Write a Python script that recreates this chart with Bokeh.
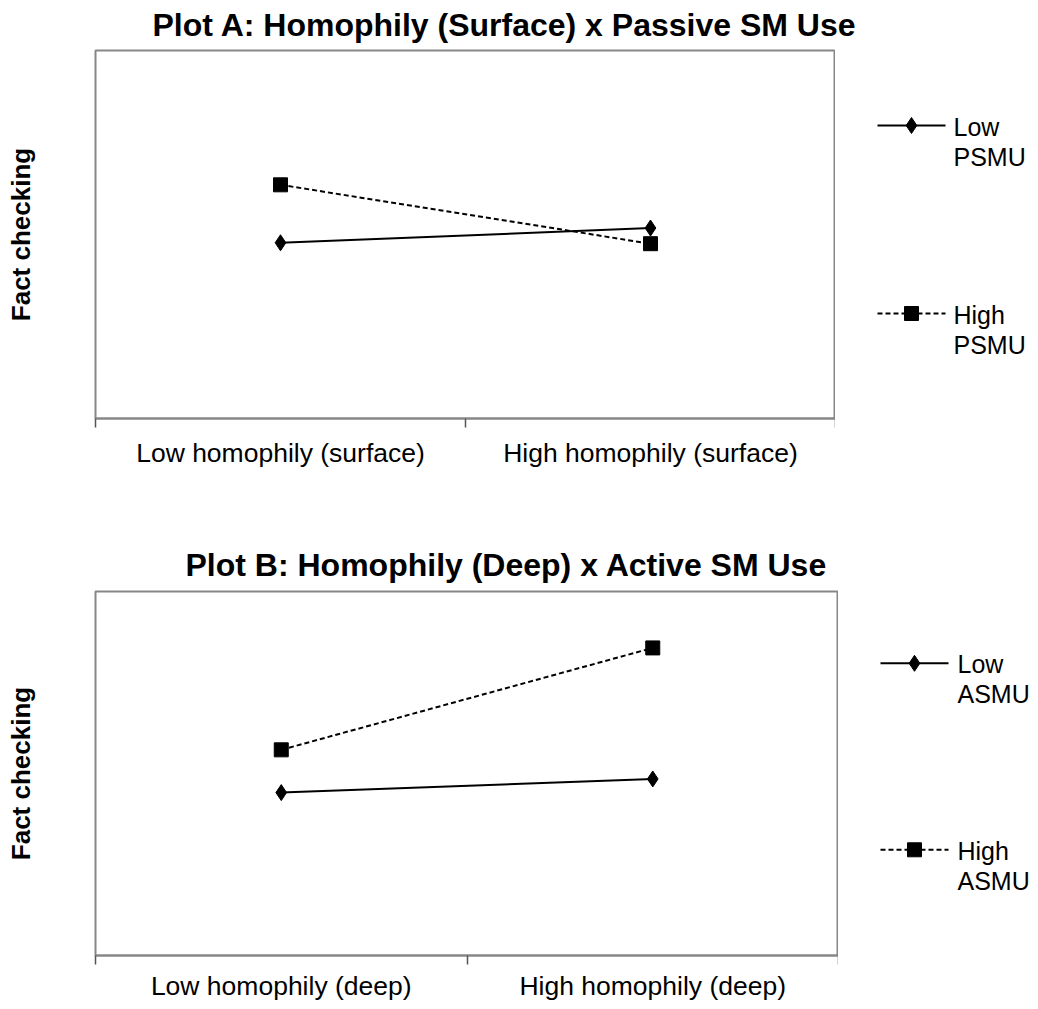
from bokeh.plotting import figure
from bokeh.models import FactorRange, Range1d, LinearAxis, FixedTicker
from bokeh.core.properties import value
from bokeh.layouts import column, row
from bokeh.embed import file_html
from bokeh.resources import INLINE

# ---- data ----
title_a = "Plot A: Homophily (Surface) x Passive SM Use"
categories_a = ["Low homophily (surface)", "High homophily (surface)"]
low_psmu = [2.91, 3.07]
high_psmu = [3.54, 2.90]
legend_a = ["Low\nPSMU", "High\nPSMU"]

title_b = "Plot B: Homophily (Deep) x Active SM Use"
categories_b = ["Low homophily (deep)", "High homophily (deep)"]
low_asmu = [2.79, 2.94]
high_asmu = [3.26, 4.38]
legend_b = ["Low\nASMU", "High\nASMU"]

y_label = "Fact checking"
y_min, y_max = 1, 5

FONT = "Liberation Sans"
FRAME_GRAY = "#878787"
TOTAL_W = 1030


def blank(width, height, xr, yr):
    q = figure(width=width, height=height, output_backend="svg", toolbar_location=None,
               x_range=xr, y_range=yr, x_axis_type=None, y_axis_type=None, min_border=0)
    q.xgrid.visible = False
    q.ygrid.visible = False
    q.outline_line_color = None
    q.background_fill_color = "white"
    q.border_fill_color = "white"
    return q


def make_header(title, height, tx, ty):
    # title strip (pixel space, y downward)
    h = blank(TOTAL_W, height, Range1d(0, TOTAL_W), Range1d(height, 0))
    h.text(x=[tx], y=[ty], text=[title], text_font=value(FONT), text_font_size="32px",
           text_font_style="bold", text_color="black", text_baseline="middle",
           text_align="left")
    return h


def make_plot(cats, low, high, width, height, b_top, b_bottom, xlab_standoff):
    p = figure(width=width, height=height, output_backend="svg", toolbar_location=None,
               x_range=FactorRange(*cats, range_padding=0), y_range=Range1d(y_min, y_max),
               x_axis_type=None, min_border_left=95, min_border_right=0,
               min_border_top=b_top, min_border_bottom=b_bottom)
    p.xgrid.visible = False
    p.ygrid.visible = False
    p.outline_line_color = FRAME_GRAY
    p.outline_line_width = 2
    p.background_fill_color = "white"
    p.border_fill_color = "white"

    # y axis: label only, no ticks
    yax = p.yaxis[0]
    yax.ticker = FixedTicker(ticks=[])
    yax.axis_label = y_label
    yax.axis_label_text_font = FONT
    yax.axis_label_text_font_size = "26px"
    yax.axis_label_text_font_style = "bold"
    yax.axis_label_text_color = "black"
    yax.major_label_standoff = 0
    yax.major_tick_out = 0
    yax.major_tick_in = 0
    yax.minor_tick_out = 0
    yax.minor_tick_in = 0
    yax.axis_line_color = None
    yax.axis_label_standoff = 60

    # x axis: category labels at centers, tick marks at category boundaries
    n = len(cats)
    centers = [i + 0.5 for i in range(n)]
    xax = LinearAxis(ticker=FixedTicker(ticks=centers, minor_ticks=list(range(n + 1))),
                     major_label_overrides={c: lab for c, lab in zip(centers, cats)})
    xax.major_tick_out = 0
    xax.major_tick_in = 0
    xax.minor_tick_out = 9
    xax.minor_tick_in = 0
    xax.minor_tick_line_color = "#555555"
    xax.minor_tick_line_width = 1.5
    xax.axis_line_color = FRAME_GRAY
    xax.axis_line_width = 2
    xax.major_label_text_font = FONT
    xax.major_label_text_font_size = "26.5px"
    xax.major_label_text_color = "black"
    xax.major_label_standoff = xlab_standoff
    p.add_layout(xax, "below")

    p.line(x=cats, y=low, line_color="black", line_width=2)
    p.scatter(x=cats, y=low, marker="diamond", size=16, fill_color="black", line_color="black")
    p.line(x=cats, y=high, line_color="black", line_width=2, line_dash="5 3")
    p.scatter(x=cats, y=high, marker="square", size=14, fill_color="black", line_color="black")
    return p


def make_legend(labels, x_left, height, frame_top, frame_bottom, ys, x0, x1, xt, lh=30):
    # legend strip; its frame is aligned with the plot frame in the row,
    # so its ranges are given in page pixels (y downward)
    width = TOTAL_W - x_left
    q = blank(width, height, Range1d(x_left, TOTAL_W), Range1d(frame_bottom, frame_top))
    styles = [("solid", "diamond", 16), ("5 3", "square", 14)]
    for lab, y, (dash, marker, size) in zip(labels, ys, styles):
        q.segment(x0=[x0], y0=[y], x1=[x1], y1=[y], line_color="black", line_width=2,
                  line_dash=dash)
        q.scatter(x=[(x0 + x1) / 2], y=[y], marker=marker, size=size,
                  fill_color="black", line_color="black")
        lines = lab.split("\n")
        q.text(x=[xt] * len(lines), y=[y + 1 + i * lh for i in range(len(lines))], text=lines,
               text_font=value(FONT), text_font_size="25px", text_color="black",
               text_baseline="middle", text_align="left")
    return q


hA = make_header(title_a, 47, 152, 24)
pA = make_plot(categories_a, low_psmu, high_psmu, width=835, height=483,
               b_top=3, b_bottom=112, xlab_standoff=10)
lA = make_legend(legend_a, 835, 483, 50, 418, ys=[125, 313], x0=877, x1=945, xt=953)

hB = make_header(title_b, 58, 185, 34)
pB = make_plot(categories_b, low_asmu, high_asmu, width=838, height=415,
               b_top=3, b_bottom=47, xlab_standoff=6)
lB = make_legend(legend_b, 838, 415, 591, 956, ys=[663, 850], x0=880, x1=948, xt=957)

layout = column(hA, row(pA, lA, spacing=0), hB, row(pB, lB, spacing=0), spacing=0)
open("out.html", "w").write(file_html(layout, INLINE))
